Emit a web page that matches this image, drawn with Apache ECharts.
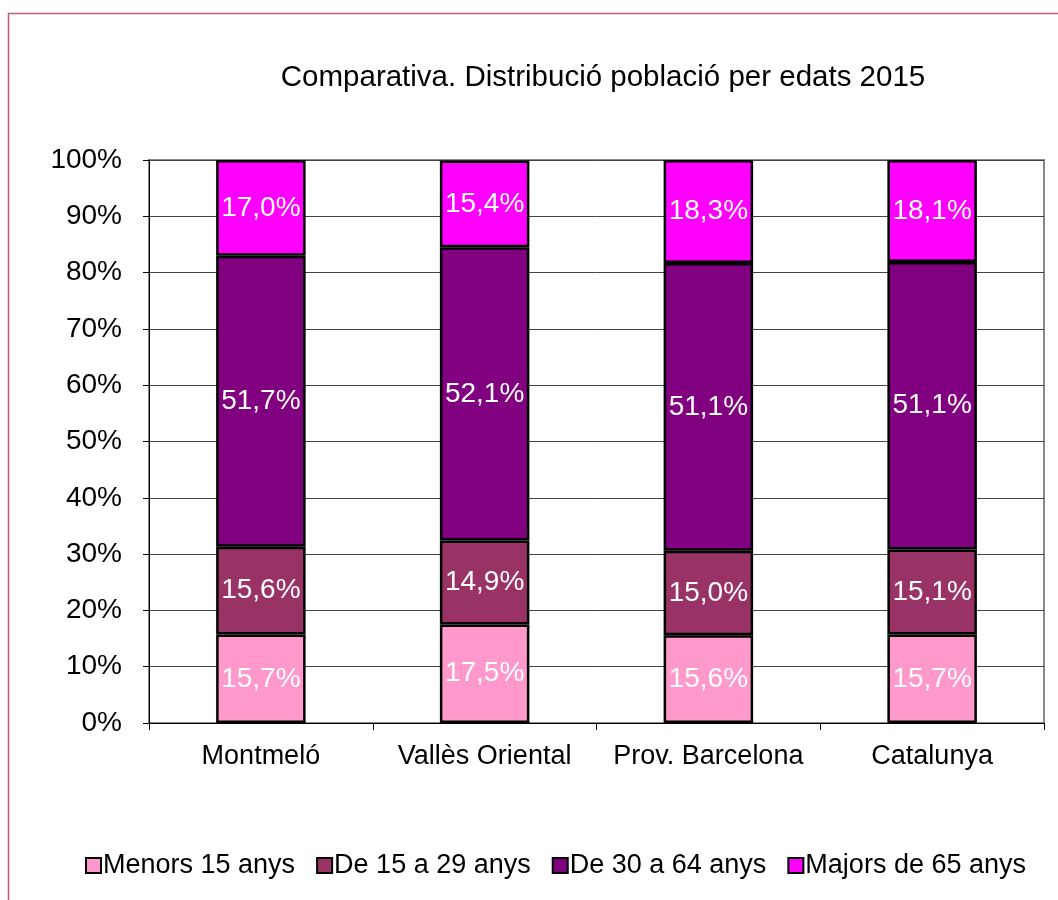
<!DOCTYPE html>
<html lang="ca" style="height: 100%">
<head>
    <meta charset="utf-8">
</head>
<body style="height: 100%; margin: 0; background: #fff">
    <div id="container" style="width: 1058px; height: 900px"></div>
    <script type="text/javascript" src="https://fastly.jsdelivr.net/npm/echarts@6/dist/echarts.min.js"></script>
    <script type="text/javascript">
    // valors en %
    const categories = ['Montmeló', 'Vallès Oriental', 'Prov. Barcelona', 'Catalunya'];
    const seriesNames = ['Menors 15 anys', 'De 15 a 29 anys', 'De 30 a 64 anys', 'Majors de 65 anys'];
    const menors15 = [15.7, 17.5, 15.6, 15.7];
    const de15a29 = [15.6, 14.9, 15.0, 15.1];
    const de30a64 = [51.7, 52.1, 51.1, 51.1];
    const majors65 = [17.0, 15.4, 18.3, 18.1];
    const colors = ['#ff99cc', '#993366', '#800080', '#ff00ff'];

    const fontFam = '"Liberation Sans", Arial, sans-serif';

    var dom = document.getElementById('container');
    var myChart = echarts.init(dom, null, { renderer: 'canvas' });

    function fmt(p) {
        return p.value.toFixed(1).replace('.', ',') + '%';
    }

    const allData = [menors15, de15a29, de30a64, majors65];
    const series = allData.map((arr, i) => ({
        name: seriesNames[i],
        type: 'bar',
        stack: 'total',
        barWidth: '40%',
        data: arr,
        itemStyle: {
            color: colors[i],
            borderColor: '#000',
            borderWidth: 2.5
        },
        label: {
            show: true,
            position: 'inside',
            color: '#fff',
            fontSize: 28,
            fontFamily: fontFam,
            formatter: fmt
        },
        emphasis: { disabled: true }
    }));

    var option = {
        animation: false,
        textStyle: { fontFamily: fontFam },
        title: {
            text: 'Comparativa. Distribució població per edats 2015',
            left: 598,
            textAlign: 'center',
            top: 58,
            textStyle: { fontSize: 29.5, fontWeight: 'normal', color: '#000', fontFamily: fontFam }
        },
        graphic: [{
            type: 'polyline',
            shape: { points: [[8.5, 900], [8.5, 13.5], [1058, 13.5]] },
            style: { stroke: '#c4587e', lineWidth: 1.5, fill: null },
            silent: true
        }],
        legend: {
            bottom: 16,
            left: 80,
            icon: 'rect',
            itemWidth: 15,
            itemHeight: 15,
            itemGap: 21,
            textStyle: { fontSize: 27, color: '#000', fontFamily: fontFam, padding: [0, 0, 0, -3] },
            itemStyle: { borderColor: '#000', borderWidth: 2 },
            data: seriesNames
        },
        grid: {
            left: 149,
            right: 14,
            top: 160,
            bottom: 177,
            show: true,
            borderColor: '#888',
            borderWidth: 2
        },
        xAxis: {
            type: 'category',
            data: categories,
            axisLine: { lineStyle: { color: '#000', width: 1 } },
            axisTick: { show: true, length: 7, lineStyle: { color: '#000' } },
            axisLabel: { fontSize: 27, color: '#000', margin: 20, interval: 0, fontFamily: fontFam }
        },
        yAxis: {
            type: 'value',
            min: 0,
            max: 100,
            interval: 10,
            axisLine: { show: true, lineStyle: { color: '#000', width: 1 } },
            axisTick: { show: true, length: 6, lineStyle: { color: '#000' } },
            axisLabel: { fontSize: 28, color: '#000', margin: 27, fontFamily: fontFam, formatter: '{value}%' },
            splitLine: { show: true, lineStyle: { color: '#444', width: 1 } }
        },
        series: series
    };

    myChart.setOption(option);
    window.addEventListener('resize', myChart.resize);
    </script>
</body>
</html>
